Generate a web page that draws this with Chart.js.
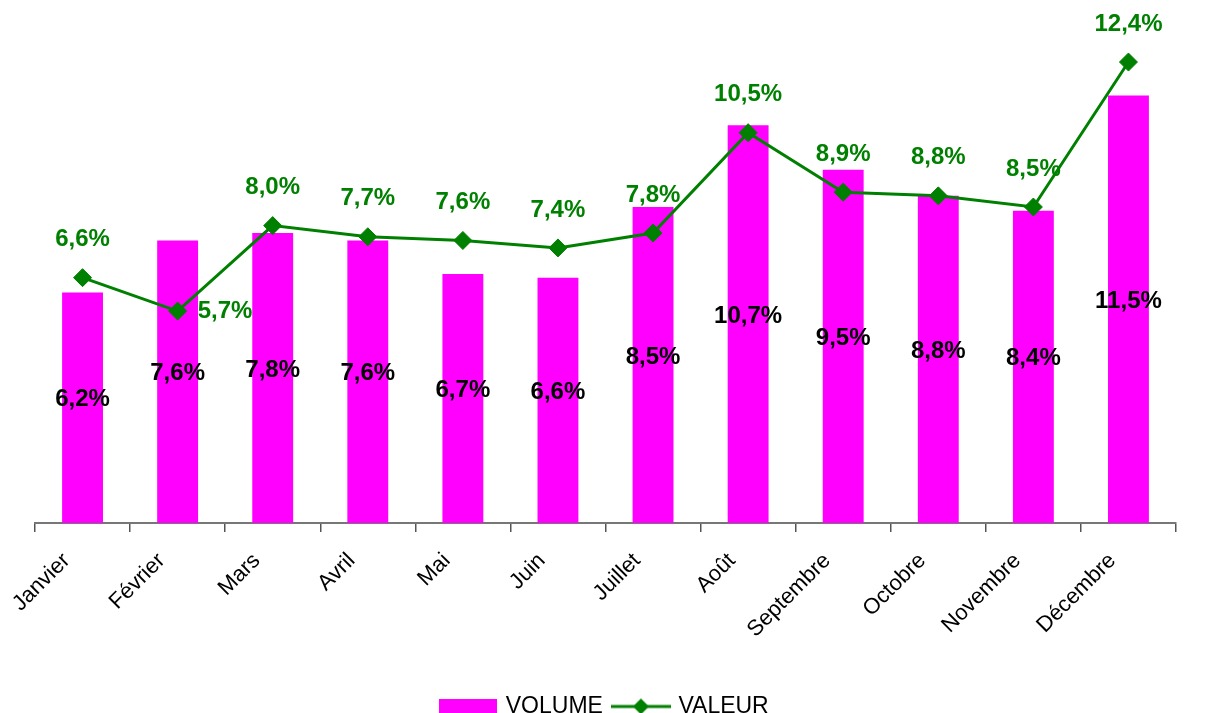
<!DOCTYPE html>
<html>
<head>
<meta charset="utf-8">
<script src="https://cdn.jsdelivr.net/npm/chart.js@4.4.1/dist/chart.umd.min.js"></script>
<style>
  body { margin: 0; background: #fff; }
  #wrap { width: 1207px; height: 713px; position: relative; }
</style>
</head>
<body>
<div id="wrap"><canvas id="chart"></canvas></div>
<script>
const months = ["Janvier", "Février", "Mars", "Avril", "Mai", "Juin", "Juillet", "Août", "Septembre", "Octobre", "Novembre", "Décembre"];
const volume = [6.2, 7.6, 7.8, 7.6, 6.7, 6.6, 8.5, 10.7, 9.5, 8.8, 8.4, 11.5];
const valeur = [6.6, 5.7, 8.0, 7.7, 7.6, 7.4, 7.8, 10.5, 8.9, 8.8, 8.5, 12.4];

const MAGENTA = "#FF00FF";
const GREEN = "#008000";
const FONT = "'Liberation Sans', Arial, sans-serif";

const fmt = v => v.toFixed(1).replace(".", ",") + "%";

// petites images pour la légende
function legendBox() {
  const c = document.createElement("canvas");
  c.width = 58; c.height = 15;
  const g = c.getContext("2d");
  g.fillStyle = MAGENTA;
  g.fillRect(0, 0, 58, 15);
  return c;
}
function legendLine() {
  const c = document.createElement("canvas");
  c.width = 60; c.height = 18;
  const g = c.getContext("2d");
  g.strokeStyle = GREEN; g.lineWidth = 3;
  g.beginPath(); g.moveTo(0, 9); g.lineTo(60, 9); g.stroke();
  g.fillStyle = GREEN;
  g.beginPath(); g.moveTo(30, 1); g.lineTo(38, 9); g.lineTo(30, 17); g.lineTo(22, 9); g.closePath(); g.fill();
  return c;
}

const valueLabels = {
  id: "valueLabels",
  afterDatasetsDraw(chart) {
    const ctx = chart.ctx;
    const bars = chart.getDatasetMeta(0).data;
    const pts = chart.getDatasetMeta(1).data;
    ctx.save();
    ctx.font = "bold 24px " + FONT;
    ctx.textBaseline = "middle";

    // étiquettes des barres
    ctx.fillStyle = "#000";
    ctx.textAlign = "center";
    bars.forEach((b, i) => {
      ctx.fillText(fmt(volume[i]), b.x, (b.y + b.base) / 2 - 8);
    });

    // étiquettes de la courbe : au-dessus, ou à droite si la barre gêne
    ctx.fillStyle = GREEN;
    pts.forEach((p, i) => {
      const y = p.y - 38;
      if (y + 5 > bars[i].y) {
        ctx.textAlign = "left";
        ctx.fillText(fmt(valeur[i]), p.x + 20, p.y);
      } else {
        ctx.textAlign = "center";
        ctx.fillText(fmt(valeur[i]), p.x, y);
      }
    });
    ctx.restore();
  }
};

Chart.defaults.color = "#000";
Chart.defaults.font.family = FONT;

new Chart(document.getElementById("chart"), {
  type: "bar",
  data: {
    labels: months,
    datasets: [
      {
        type: "bar",
        label: "VOLUME",
        data: volume,
        backgroundColor: MAGENTA,
        barPercentage: 0.43,
        categoryPercentage: 1,
        order: 2
      },
      {
        type: "line",
        label: "VALEUR",
        data: valeur,
        borderColor: GREEN,
        backgroundColor: GREEN,
        borderWidth: 3,
        pointStyle: "rectRot",
        pointRadius: 9,
        pointBorderWidth: 1,
        tension: 0,
        order: 1
      }
    ]
  },
  options: {
    responsive: true,
    maintainAspectRatio: false,
    animation: false,
    layout: { padding: { left: 35, right: 31, top: 0, bottom: 0 } },
    plugins: {
      tooltip: { enabled: false },
      legend: {
        position: "bottom",
        maxHeight: 30,
        labels: {
          usePointStyle: true,
          pointStyleWidth: 52,
          padding: 12,
          font: { size: 23 },
          generateLabels: () => [
            { text: "VOLUME", pointStyle: legendBox(), datasetIndex: 0, hidden: false },
            { text: "VALEUR", pointStyle: legendLine(), datasetIndex: 1, hidden: false }
          ]
        }
      }
    },
    scales: {
      x: {
        offset: true,
        grid: {
          offset: true,
          drawOnChartArea: false,
          color: "#555",
          tickLength: 9,
          lineWidth: 1.5
        },
        border: { display: true, color: "#777", width: 2 },
        ticks: {
          minRotation: 45,
          maxRotation: 45,
          padding: 16,
          labelOffset: -16,
          font: { size: 22 },
          color: "#000"
        },
        afterFit(scale) { scale.height = 160; }
      },
      y: {
        display: false,
        min: 0,
        max: 13.8
      }
    }
  },
  plugins: [valueLabels]
});
</script>
</body>
</html>
